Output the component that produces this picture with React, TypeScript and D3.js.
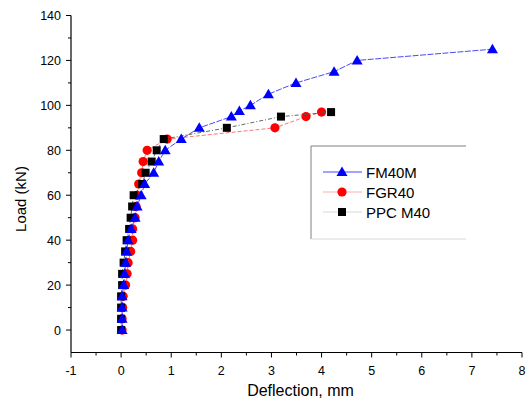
import React from "react";
import * as d3 from "d3";

// load steps (kN) and deflections (mm)
const fmLoad = [0, 5, 10, 15, 20, 25, 30, 35, 40, 45, 50, 55, 60, 65, 70, 75, 80, 85, 90, 95, 97.5, 100, 105, 110, 115, 120, 125];
const fmDefl = [0.02, 0.02, 0.02, 0.02, 0.05, 0.07, 0.09, 0.11, 0.14, 0.2, 0.28, 0.32, 0.4, 0.47, 0.65, 0.75, 0.88, 1.2, 1.56, 2.2, 2.36, 2.58, 2.94, 3.49, 4.25, 4.71, 7.41];

const fgrLoad = [0, 5, 10, 15, 20, 25, 30, 35, 40, 45, 50, 55, 60, 65, 70, 75, 80, 85, 90, 95, 97];
const fgrDefl = [0.02, 0.02, 0.03, 0.04, 0.09, 0.12, 0.14, 0.19, 0.23, 0.23, 0.28, 0.3, 0.32, 0.35, 0.41, 0.44, 0.52, 0.92, 3.07, 3.69, 4.0];

const ppcLoad = [0, 5, 10, 15, 20, 25, 30, 35, 40, 45, 50, 55, 60, 65, 70, 75, 80, 85, 90, 95, 97];
const ppcDefl = [0.0, 0.0, 0.0, 0.0, 0.02, 0.02, 0.05, 0.08, 0.11, 0.16, 0.19, 0.22, 0.25, 0.42, 0.49, 0.61, 0.71, 0.85, 2.11, 3.19, 4.19];

const xTicks = [-1, 0, 1, 2, 3, 4, 5, 6, 7, 8];
const xMinor = [-0.5, 0.5, 1.5, 2.5, 3.5, 4.5, 5.5, 6.5, 7.5];
const yTicks = [0, 20, 40, 60, 80, 100, 120, 140];
const yMinor = [10, 30, 50, 70, 90, 110, 130];

const series = [
  { name: "FGR40", load: fgrLoad, defl: fgrDefl, color: "#ff0000", line: "#ff6666", dash: "4,2", shape: "circle" },
  { name: "PPC M40", load: ppcLoad, defl: ppcDefl, color: "#000000", line: "#555555", dash: "4,2,1,2", shape: "square" },
  { name: "FM40M", load: fmLoad, defl: fmDefl, color: "#0000ff", line: "#3333ff", dash: "6,1.5", shape: "triangle" },
];
const legendOrder = ["FM40M", "FGR40", "PPC M40"];

const font = "Arial, 'Liberation Sans', sans-serif";

function Marker({ shape, x, y, color }: { shape: string; x: number; y: number; color: string }) {
  if (shape === "circle") return <circle cx={x} cy={y} r={4.6} fill={color} />;
  if (shape === "square") return <rect x={x - 4} y={y - 4} width={8} height={8} fill={color} />;
  return <path d={`M${x},${y - 5.5}L${x + 5.5},${y + 4}L${x - 5.5},${y + 4}Z`} fill={color} />;
}

export default function App() {
  const width = 531;
  const height = 403;
  const left = 71;
  const right = 522;
  const top = 15.5;
  const bottom = 352.5;

  const x = d3.scaleLinear().domain([-1, 8]).range([left, right]);
  const y = d3.scaleLinear().domain([-10, 140]).range([bottom, top]);

  const line = d3
    .line<[number, number]>()
    .x((d) => x(d[0]))
    .y((d) => y(d[1]));

  return (
    <svg
      width={width}
      height={height}
      style={{ position: "absolute", left: 0, top: 0, background: "#fff" }}
      fontFamily={font}
    >
      {/* axes */}
      <line x1={left} x2={right} y1={bottom} y2={bottom} stroke="#000" strokeWidth={1.2} />
      <line x1={left} x2={left} y1={top} y2={bottom} stroke="#000" strokeWidth={1.2} />
      {xTicks.map((t) => (
        <g key={"xt" + t}>
          <line x1={x(t)} x2={x(t)} y1={bottom} y2={bottom + 5} stroke="#000" />
          <text x={x(t)} y={bottom + 22} fontSize={12.5} textAnchor="middle">
            {t}
          </text>
        </g>
      ))}
      {xMinor.map((t) => (
        <line key={"xm" + t} x1={x(t)} x2={x(t)} y1={bottom} y2={bottom + 3} stroke="#000" />
      ))}
      {yTicks.map((t) => (
        <g key={"yt" + t}>
          <line x1={left - 5} x2={left} y1={y(t)} y2={y(t)} stroke="#000" />
          <text x={left - 10} y={y(t) + 4.5} fontSize={12.5} textAnchor="end">
            {t}
          </text>
        </g>
      ))}
      {yMinor.map((t) => (
        <line key={"ym" + t} x1={left - 3} x2={left} y1={y(t)} y2={y(t)} stroke="#000" />
      ))}
      <text x={(left + right) / 2 + 4} y={396} fontSize={16} textAnchor="middle">
        Deflection, mm
      </text>
      <text transform={`translate(26,${(top + bottom) / 2 + 15}) rotate(-90)`} fontSize={15} textAnchor="middle">
        Load (kN)
      </text>

      {/* series */}
      {series.map((s) => {
        const pts = s.defl.map((d, i) => [d, s.load[i]] as [number, number]);
        return (
          <g key={s.name}>
            <path d={line(pts) || ""} fill="none" stroke={s.line} strokeWidth={0.9} strokeDasharray={s.dash} />
            {pts.map((p, i) => (
              <Marker key={i} shape={s.shape} x={x(p[0])} y={y(p[1])} color={s.color} />
            ))}
          </g>
        );
      })}

      {/* legend */}
      <line x1={311} x2={466} y1={146} y2={146} stroke="#808080" />
      <line x1={311} x2={311} y1={146} y2={239} stroke="#808080" />
      <line x1={311} x2={466} y1={239} y2={239} stroke="#d8d8d8" />
      {legendOrder.map((name, i) => {
        const s = series.find((d) => d.name === name)!;
        const ly = 172 + i * 20;
        return (
          <g key={"lg" + name}>
            <line x1={323} x2={362} y1={ly} y2={ly} stroke={s.line} strokeWidth={0.9} opacity={name === "PPC M40" ? 0.25 : name === "FGR40" ? 0.6 : 1} />
            <Marker shape={s.shape} x={342} y={ly} color={s.color} />
            <text x={366} y={ly + 5.5} fontSize={15}>
              {name}
            </text>
          </g>
        );
      })}
    </svg>
  );
}
